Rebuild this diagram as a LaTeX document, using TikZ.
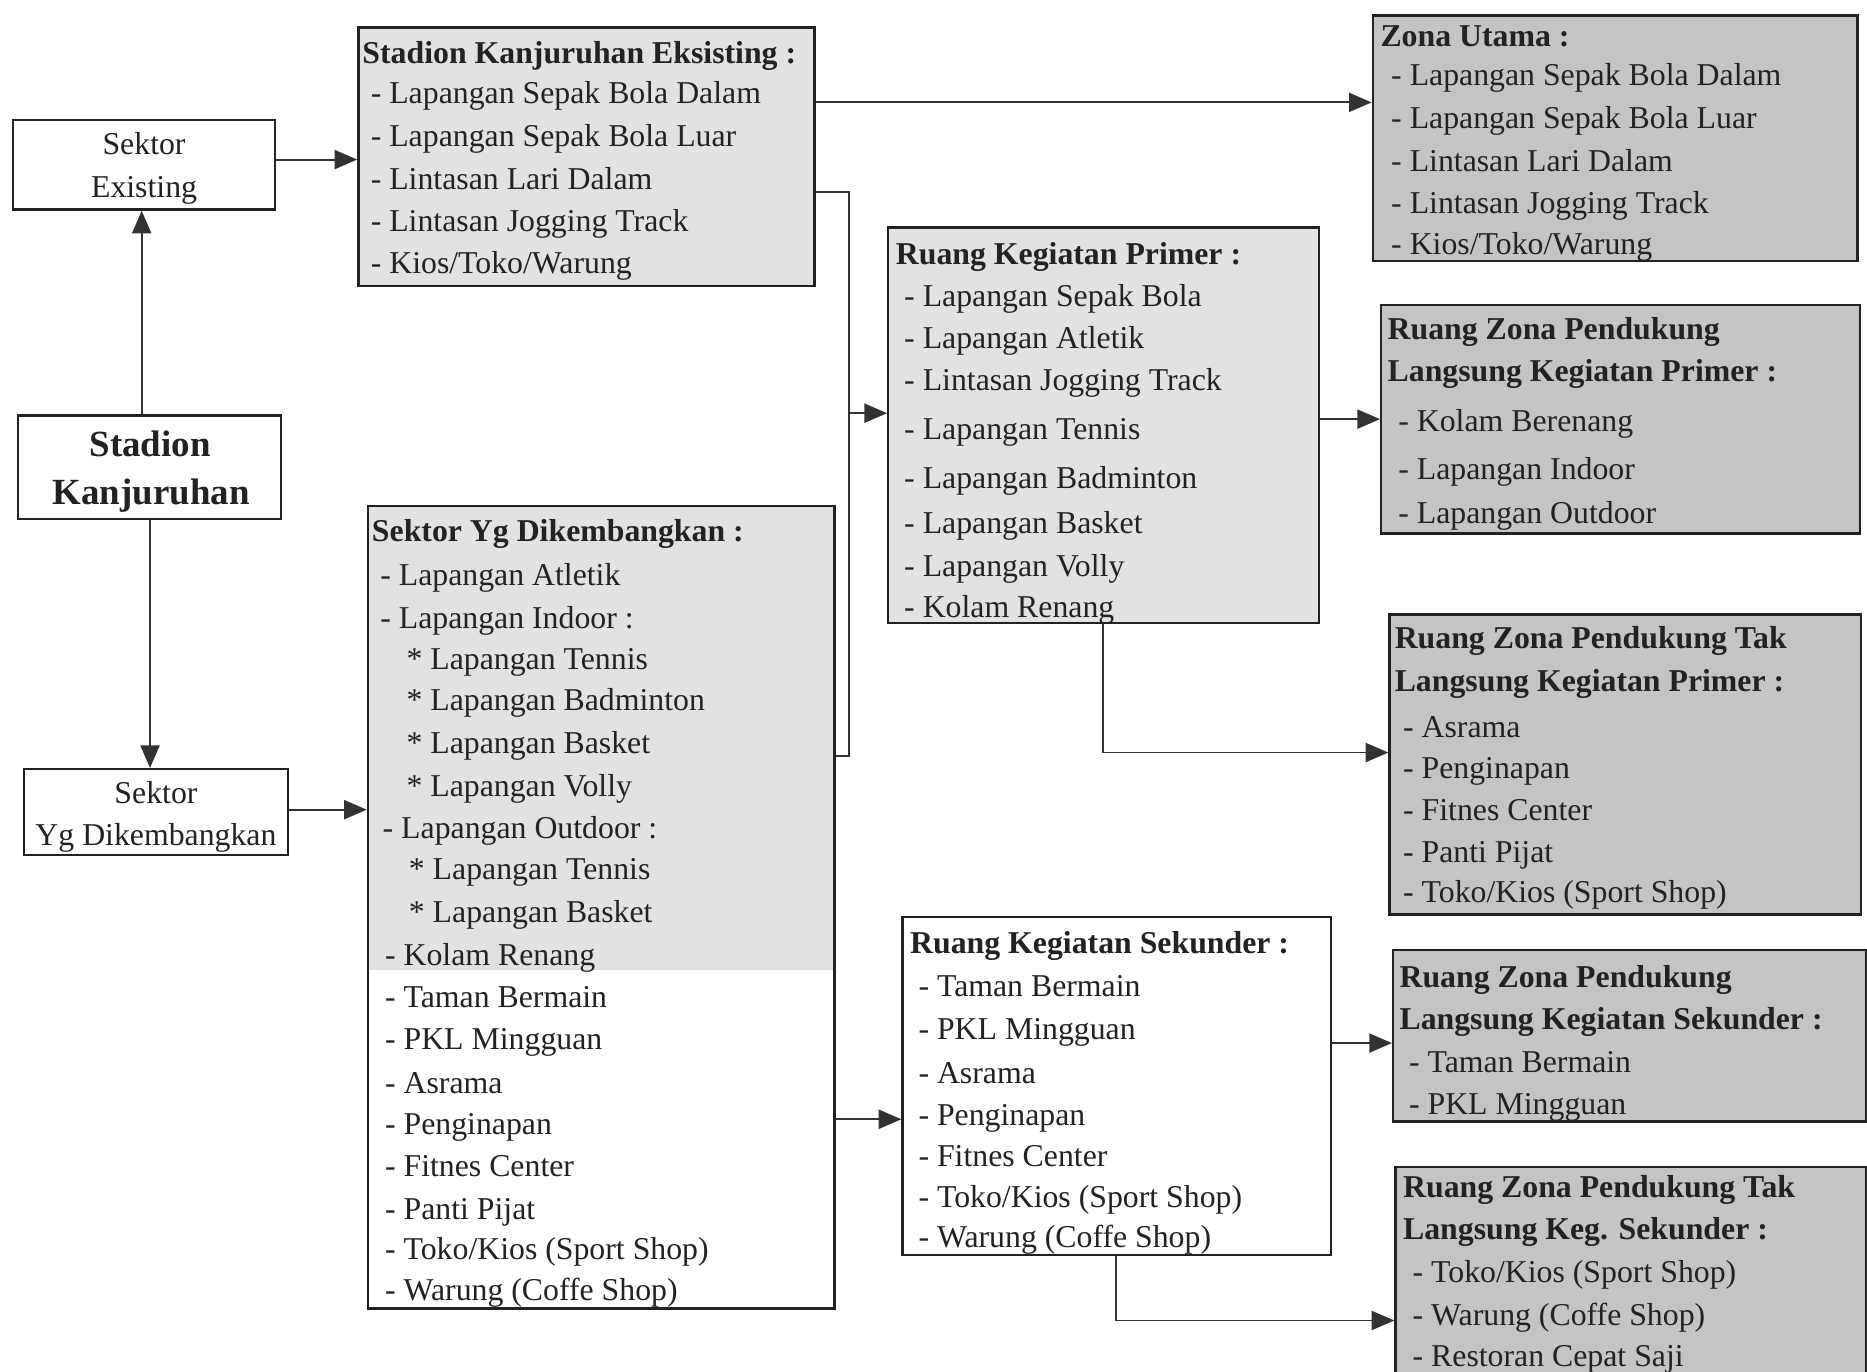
\documentclass[tikz,border=0pt]{standalone}
\usepackage{fontspec}
\setmainfont{Liberation Serif}
\usetikzlibrary{fit,arrows.meta}
\definecolor{lightbox}{HTML}{E2E2E2}
\definecolor{darkbox}{HTML}{C4C4C4}
\definecolor{ink}{HTML}{222222}
\definecolor{lineclr}{HTML}{333333}
\begin{document}
\begin{tikzpicture}[x=0.5pt,y=-0.5pt,
  box/.style={draw=ink, line width=1pt, inner sep=0pt},
  lbox/.style={box, fill=lightbox},
  dbox/.style={box, fill=darkbox},
  itm/.style={anchor=base west, inner sep=0pt, yshift=-1pt, text=ink, font=\fontsize{13.35}{16}\selectfont},
  ttl/.style={itm, font=\fontsize{13.35}{16}\selectfont\bfseries},
  ctr/.style={itm, anchor=base},
  ctrbig/.style={itm, anchor=base, font=\fontsize{15.5}{18}\selectfont\bfseries},
  conn/.style={draw=lineclr, line width=0.8pt},
  arr/.style={conn, -{Triangle[length=9.5pt,width=8pt]}}]
\useasboundingbox (0,0) rectangle (1568,1152);
\clip (0,0) rectangle (1568,1152);

% ---------- left column ----------
\node[box, fit={(11,101) (231,176)}] (A) {};
\node[ctr] (A1) at (121,128) {Sektor};
\node[ctr] (A2) at (121,164) {Existing};

\node[box, fit={(15,349) (236,436)}] (B) {};
\node[ctrbig] (B1) at (126,381) {Stadion};
\node[ctrbig] (B2) at (127,422) {Kanjuruhan};

\node[box, fit={(20,646) (242,718)}] (C) {};
\node[ctr] (C1) at (131,673) {Sektor};
\node[ctr] (C2) at (131,708) {Yg Dikembangkan};

% ---------- Stadion Kanjuruhan Eksisting ----------
\node[lbox, fit={(301,23) (684,240)}] (D) {};
\node[ttl] (D0) at (304,51) {Stadion Kanjuruhan Eksisting :};
\node[itm] (D1) at (311,85) {- Lapangan Sepak Bola Dalam};
\node[itm] (D2) at (311,121) {- Lapangan Sepak Bola Luar};
\node[itm] (D3) at (311,157) {- Lintasan Lari Dalam};
\node[itm] (D4) at (311,192) {- Lintasan Jogging Track};
\node[itm] (D5) at (311,228) {- Kios/Toko/Warung};

% ---------- Zona Utama ----------
\node[dbox, fit={(1153,13) (1560,219)}] (E) {};
\node[ttl] (E0) at (1159,37) {Zona Utama :};
\node[itm] (E1) at (1168,70) {- Lapangan Sepak Bola Dalam};
\node[itm] (E2) at (1168,106) {- Lapangan Sepak Bola Luar};
\node[itm] (E3) at (1168,142) {- Lintasan Lari Dalam};
\node[itm] (E4) at (1168,177) {- Lintasan Jogging Track};
\node[itm] (E5) at (1168,212) {- Kios/Toko/Warung};

% ---------- Ruang Kegiatan Primer ----------
\node[lbox, fit={(746,191) (1108,523)}] (F) {};
\node[ttl] (F0) at (752,220) {Ruang Kegiatan Primer :};
\node[itm] (F1) at (759,255) {- Lapangan Sepak Bola};
\node[itm] (F2) at (759,291) {- Lapangan Atletik};
\node[itm] (F3) at (759,326) {- Lintasan Jogging Track};
\node[itm] (F4) at (759,367) {- Lapangan Tennis};
\node[itm] (F5) at (759,408) {- Lapangan Badminton};
\node[itm] (F6) at (759,446) {- Lapangan Basket};
\node[itm] (F7) at (759,482) {- Lapangan Volly};
\node[itm] (F8) at (759,517) {- Kolam Renang};

% ---------- Langsung Primer ----------
\node[dbox, fit={(1160,256) (1562,448)}] (G) {};
\node[ttl] (G0) at (1165,283) {Ruang Zona Pendukung};
\node[ttl] (G1) at (1165,318) {Langsung Kegiatan Primer :};
\node[itm] (G2) at (1174,360) {- Kolam Berenang};
\node[itm] (G3) at (1174,401) {- Lapangan Indoor};
\node[itm] (G4) at (1174,438) {- Lapangan Outdoor};

% ---------- Tak Langsung Primer ----------
\node[dbox, fit={(1167,516) (1563,768)}] (H) {};
\node[ttl] (H0) at (1171,543) {Ruang Zona Pendukung Tak};
\node[ttl] (H1) at (1171,579) {Langsung Kegiatan Primer :};
\node[itm] (H2) at (1178,617) {- Asrama};
\node[itm] (H3) at (1178,652) {- Penginapan};
\node[itm] (H4) at (1178,687) {- Fitnes Center};
\node[itm] (H5) at (1178,722) {- Panti Pijat};
\node[itm] (H6) at (1178,756) {- Toko/Kios (Sport Shop)};

% ---------- Sektor Yg Dikembangkan ----------
\fill[lightbox] (309,425) rectangle (701,815);
\node[box, fit={(309,425) (701,1099)}] (I) {};
\node[ttl] (I0) at (312,453) {Sektor Yg Dikembangkan :};
\node[itm] (I1) at (319,490) {- Lapangan Atletik};
\node[itm] (I2) at (319,526) {- Lapangan Indoor :};
\node[itm] (I3) at (341,560) {* Lapangan Tennis};
\node[itm] (I4) at (341,595) {* Lapangan Badminton};
\node[itm] (I5) at (341,631) {* Lapangan Basket};
\node[itm] (I6) at (341,667) {* Lapangan Volly};
\node[itm] (I7) at (321,702) {- Lapangan Outdoor :};
\node[itm] (I8) at (343,737) {* Lapangan Tennis};
\node[itm] (I9) at (343,773) {* Lapangan Basket};
\node[itm] (I10) at (323,809) {- Kolam Renang};
\node[itm] (I11) at (323,844) {- Taman Bermain};
\node[itm] (I12) at (323,879) {- PKL Mingguan};
\node[itm] (I13) at (323,916) {- Asrama};
\node[itm] (I14) at (323,951) {- Penginapan};
\node[itm] (I15) at (323,986) {- Fitnes Center};
\node[itm] (I16) at (323,1022) {- Panti Pijat};
\node[itm] (I17) at (323,1056) {- Toko/Kios (Sport Shop)};
\node[itm] (I18) at (323,1090) {- Warung (Coffe Shop)};

% ---------- Ruang Kegiatan Sekunder ----------
\node[box, fit={(758,770) (1118,1054)}] (J) {};
\node[ttl] (J0) at (764,799) {Ruang Kegiatan Sekunder :};
\node[itm] (J1) at (771,835) {- Taman Bermain};
\node[itm] (J2) at (771,871) {- PKL Mingguan};
\node[itm] (J3) at (771,908) {- Asrama};
\node[itm] (J4) at (771,943) {- Penginapan};
\node[itm] (J5) at (771,978) {- Fitnes Center};
\node[itm] (J6) at (771,1012) {- Toko/Kios (Sport Shop)};
\node[itm] (J7) at (771,1046) {- Warung (Coffe Shop)};

% ---------- Langsung Sekunder ----------
\node[dbox, fit={(1170,798) (1567,942)}] (K) {};
\node[ttl] (K0) at (1175,827) {Ruang Zona Pendukung};
\node[ttl] (K1) at (1175,863) {Langsung Kegiatan Sekunder :};
\node[itm] (K2) at (1183,899) {- Taman Bermain};
\node[itm] (K3) at (1183,934) {- PKL Mingguan};

% ---------- Tak Langsung Sekunder ----------
\node[dbox, fit={(1172,980) (1567,1180)}] (L) {};
\node[ttl] (L0) at (1178,1004) {Ruang Zona Pendukung Tak};
\node[ttl] (L1) at (1178,1039) {Langsung Keg. Sekunder :};
\node[itm] (L2) at (1186,1075) {- Toko/Kios (Sport Shop)};
\node[itm] (L3) at (1186,1111) {- Warung (Coffe Shop)};
\node[itm] (L4) at (1186,1146) {- Restoran Cepat Saji};

% ---------- connectors ----------
\coordinate (xu) at (119,0);
\coordinate (xd) at (126,0);
\draw[arr] (B.north -| xu) -- (A.south -| xu);
\draw[arr] (B.south -| xd) -- (C.north -| xd);
\coordinate (y1) at (0,134);
\draw[arr] (A.east |- y1) -- (D.west |- y1);
\coordinate (y2) at (0,680);
\draw[arr] (C.east |- y2) -- (I.west |- y2);
\coordinate (y3) at (0,86);
\draw[arr] (D.east |- y3) -- (E.west |- y3);
\coordinate (jx) at (713,161);
\coordinate (jy) at (713,635);
\draw[conn] (D.east |- jx) -- (jx) -- (jy) -- (I.east |- jy);
\coordinate (jm) at (713,347);
\draw[arr] (jm) -- (F.west |- jm);
\coordinate (y4) at (0,352);
\draw[arr] (F.east |- y4) -- (G.west |- y4);
\coordinate (kx) at (926,632);
\draw[arr] (F.south -| kx) -- (kx) -- (H.west |- kx);
\coordinate (y5) at (0,940);
\draw[arr] (I.east |- y5) -- (J.west |- y5);
\coordinate (y6) at (0,876);
\draw[arr] (J.east |- y6) -- (K.west |- y6);
\coordinate (lx) at (937,1109);
\draw[arr] (J.south -| lx) -- (lx) -- (L.west |- lx);
\end{tikzpicture}
\end{document}
